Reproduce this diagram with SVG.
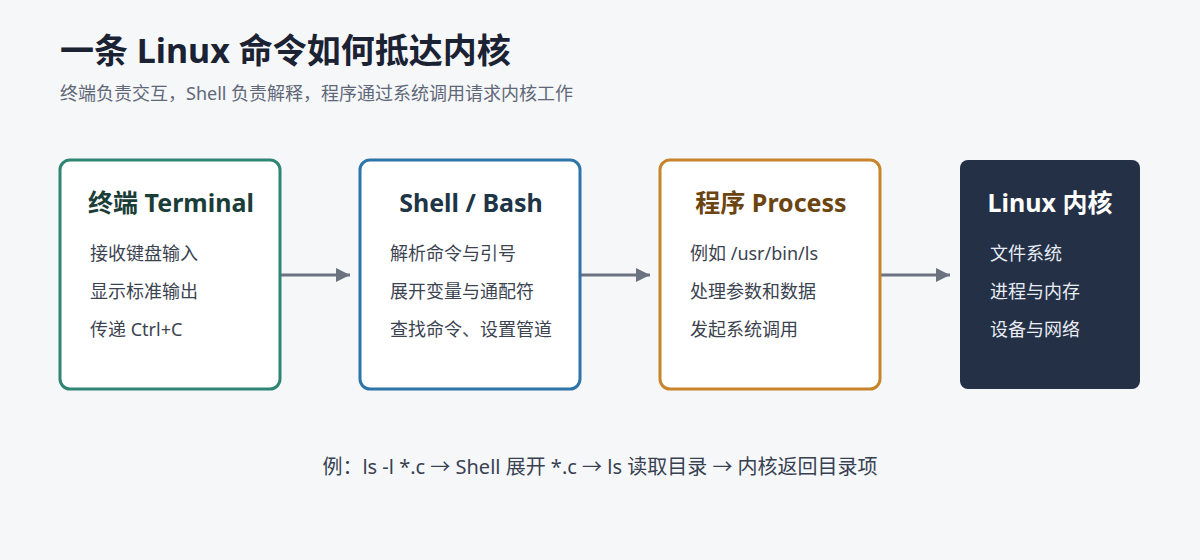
<svg xmlns="http://www.w3.org/2000/svg" width="1200" height="560" viewBox="0 0 1200 560">
<defs>
<marker id="arr" viewBox="0 0 10 10" refX="10" refY="5" markerWidth="14" markerHeight="14" markerUnits="userSpaceOnUse" orient="auto">
<path d="M0,0 L10,5 L0,10 z" fill="#6b7280"/>
</marker>
</defs>
<style>
text{font-family:"Noto Sans","Noto Sans CJK SC",sans-serif}
.title{font-size:34px;font-weight:700;fill:#1a2233}
.sub{font-size:18px;fill:#5f6878}
.nt{font-size:25px;font-weight:700;text-anchor:middle}
.it{font-size:18px;fill:#3b4350}
.kit{font-size:18px;fill:#e8edf5}
.box{fill:#ffffff;stroke-width:3}
.conn{stroke:#6b7280;stroke-width:3;fill:none}
.note{font-size:20px;fill:#374151;text-anchor:middle}
</style>
<rect width="1200" height="560" fill="#f6f7f9"/>
<text class="title" x="60" y="63">一条 Linux 命令如何抵达内核</text>
<text class="sub" x="60" y="100">终端负责交互，Shell 负责解释，程序通过系统调用请求内核工作</text>
<g id="connectors">
<line class="conn" x1="281" y1="275" x2="350" y2="275" marker-end="url(#arr)"/>
<line class="conn" x1="581" y1="275" x2="650" y2="275" marker-end="url(#arr)"/>
<line class="conn" x1="881" y1="275" x2="950" y2="275" marker-end="url(#arr)"/>
</g>
<g id="terminal">
<rect class="box" x="60" y="160" width="220" height="229" rx="10" stroke="#2e8573"/>
<text class="nt" x="171" y="212" fill="#1b3d38">终端 Terminal</text>
<text class="it" x="90" y="260">接收键盘输入</text>
<text class="it" x="90" y="298">显示标准输出</text>
<text class="it" x="90" y="336">传递 Ctrl+C</text>
</g>
<g id="shell">
<rect class="box" x="360" y="160" width="220" height="229" rx="10" stroke="#2d74a8"/>
<text class="nt" x="471" y="212" fill="#1d3547">Shell / Bash</text>
<text class="it" x="390" y="260">解析命令与引号</text>
<text class="it" x="390" y="298">展开变量与通配符</text>
<text class="it" x="390" y="336">查找命令、设置管道</text>
</g>
<g id="process">
<rect class="box" x="660" y="160" width="220" height="229" rx="10" stroke="#c8842a"/>
<text class="nt" x="771" y="212" fill="#6b4410">程序 Process</text>
<text class="it" x="690" y="260">例如 /usr/bin/ls</text>
<text class="it" x="690" y="298">处理参数和数据</text>
<text class="it" x="690" y="336">发起系统调用</text>
</g>
<g id="kernel">
<rect x="960" y="160" width="180" height="229" rx="8" fill="#243045"/>
<text class="nt" x="1050" y="212" fill="#ffffff">Linux 内核</text>
<text class="kit" x="990" y="260">文件系统</text>
<text class="kit" x="990" y="298">进程与内存</text>
<text class="kit" x="990" y="336">设备与网络</text>
</g>
<text class="note" x="600" y="474">例：ls -l *.c → Shell 展开 *.c → ls 读取目录 → 内核返回目录项</text>
</svg>
